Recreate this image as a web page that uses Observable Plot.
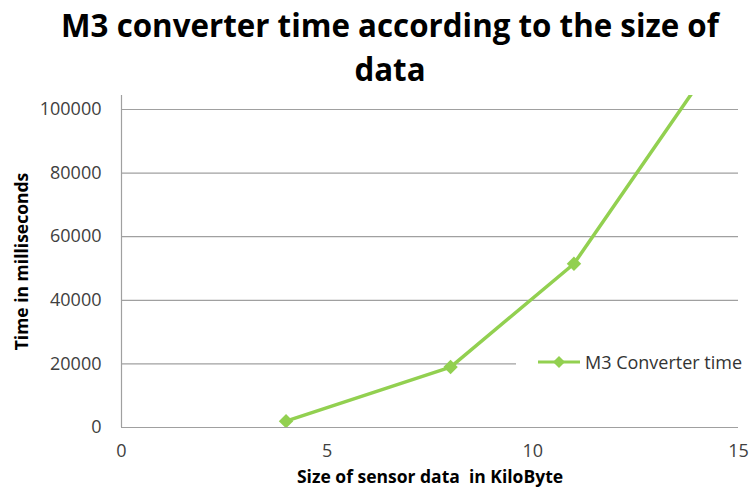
<!DOCTYPE html>
<html>
<head>
<meta charset="utf-8">
<script src="https://cdn.jsdelivr.net/npm/d3@7"></script>
<script src="https://cdn.jsdelivr.net/npm/@observablehq/plot@0.6"></script>
<style>
  html, body { margin: 0; padding: 0; background: #fff; }
  #wrap { position: relative; width: 750px; height: 490px; font-family: "Open Sans", sans-serif; overflow: hidden; }
  #title { position: absolute; left: 15px; top: 3px; width: 750px; text-align: center; font-weight: 700; font-size: 31.3px; line-height: 44px; color: #000; }
  #legend { position: absolute; left: 516px; top: 348px; width: 234px; height: 28px; background: #fff; display: flex; align-items: center; }
  #legend span { font-size: 18px; color: #333; margin-left: 3px; }
  #chart { position: absolute; left: 0; top: 0; }
</style>
</head>
<body>
<div id="wrap">
  <div id="chart"></div>
  <div id="title">M3 converter time according to the size of<br>data</div>
  <div id="legend"><svg width="66" height="20"><line x1="22" y1="10" x2="64" y2="10" stroke="#92d050" stroke-width="3"/><path d="M43,4 L49,10 L43,16 L37,10 Z" fill="#92d050"/></svg><span>M3 Converter time</span></div>
</div>
<script>
const sizesKB = [4, 8, 11, 14];
const timesMs = [2000, 19000, 51500, 107600];
const yTicks = [0, 20000, 40000, 60000, 80000, 100000];
const xTicks = [0, 5, 10, 15];
const seriesName = "M3 Converter time";

const data = sizesKB.map((x, i) => ({x, y: timesMs[i], s: seriesName}));
const green = "#92d050";

const plot = Plot.plot({
  width: 750,
  height: 490,
  marginLeft: 121,
  marginRight: 12,
  marginTop: 95,
  marginBottom: 63,
  style: {fontFamily: "Open Sans, sans-serif", fontSize: "18px", color: "#404040", background: "transparent"},
  x: {domain: [0, 15]},
  y: {domain: [0, 104400]},
  marks: [
    Plot.gridY(yTicks, {stroke: "#a0a0a0", strokeOpacity: 1, strokeWidth: 1.2}),
    Plot.ruleY([0], {stroke: "#a0a0a0", strokeWidth: 1.2}),
    Plot.ruleX([0], {stroke: "#a0a0a0", strokeWidth: 1.2}),
    Plot.axisX(xTicks, {tickSize: 0, tickPadding: 17, fontSize: 18, label: "Size of sensor data  in KiloByte", labelAnchor: "center", labelOffset: 55, labelArrow: "none"}),
    Plot.axisY(yTicks, {tickSize: 0, tickPadding: 20, fontSize: 18, tickFormat: d3.format("d"), label: "Time in milliseconds", labelAnchor: "center", labelOffset: 106, labelArrow: "none"}),
    Plot.line(data, {x: "x", y: "y", stroke: green, strokeWidth: 3.5, clip: true}),
    Plot.dot(data, {x: "x", y: "y", symbol: "diamond2", r: 6.5, fill: green, stroke: "none", clip: true})
  ]
});
document.getElementById("chart").appendChild(plot);

plot.querySelectorAll("[aria-label='x-axis label'] text, [aria-label='y-axis label'] text").forEach(t => {
  t.setAttribute("font-weight", "700");
  t.setAttribute("font-size", "17.5");
  t.setAttribute("fill", "#000");
});
</script>
</body>
</html>
